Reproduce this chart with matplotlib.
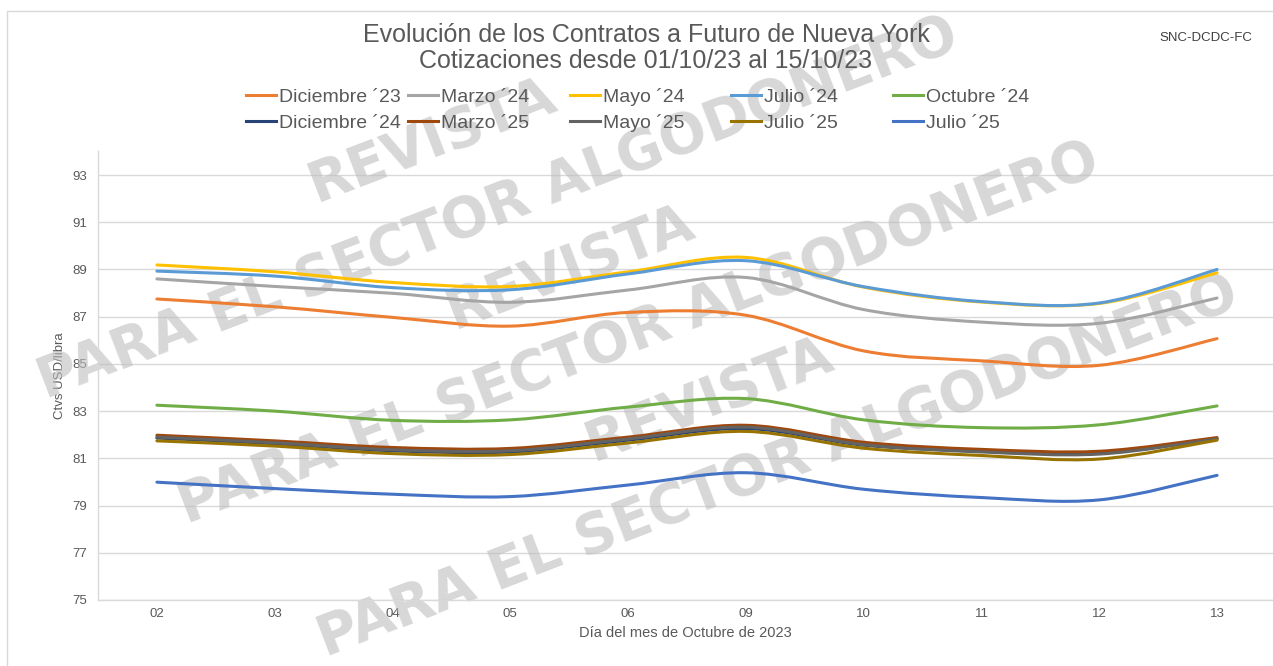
import numpy as np
import matplotlib
matplotlib.use('Agg')
import matplotlib.pyplot as plt
from matplotlib.path import Path
from matplotlib.patches import PathPatch, Rectangle
from matplotlib.lines import Line2D

# ---------------- data ----------------
days = ['02', '03', '04', '05', '06', '09', '10', '11', '12', '13']

dic23 = [87.75, 87.42, 86.97, 86.60, 87.18, 87.06, 85.55, 85.13, 84.94, 86.07]
mar24 = [88.60, 88.28, 87.99, 87.61, 88.13, 88.66, 87.30, 86.77, 86.72, 87.79]
may24 = [89.19, 88.90, 88.45, 88.28, 88.90, 89.51, 88.25, 87.62, 87.56, 88.86]
jul24 = [88.93, 88.72, 88.23, 88.14, 88.81, 89.37, 88.27, 87.64, 87.58, 89.00]
oct24 = [83.25, 83.00, 82.61, 82.63, 83.17, 83.53, 82.63, 82.30, 82.42, 83.22]
dic24 = [81.86, 81.62, 81.32, 81.27, 81.77, 82.26, 81.56, 81.30, 81.22, 81.83]
mar25 = [81.98, 81.74, 81.46, 81.42, 81.90, 82.40, 81.68, 81.38, 81.30, 81.88]
may25 = [81.90, 81.66, 81.36, 81.32, 81.82, 82.32, 81.58, 81.27, 81.18, 81.82]
jul25a = [81.74, 81.52, 81.20, 81.16, 81.65, 82.14, 81.43, 81.12, 80.97, 81.77]
jul25b = [79.99, 79.72, 79.48, 79.38, 79.87, 80.39, 79.69, 79.34, 79.24, 80.28]

series_names = ['Diciembre ´23', 'Marzo ´24', 'Mayo ´24', 'Julio ´24', 'Octubre ´24',
                'Diciembre ´24', 'Marzo ´25', 'Mayo ´25', 'Julio ´25', 'Julio ´25']
series_values = [dic23, mar24, may24, jul24, oct24, dic24, mar25, may25, jul25a, jul25b]
colors = ['#ED7D31', '#A5A5A5', '#FFC000', '#5B9BD5', '#70AD47',
          '#264478', '#9E480E', '#636363', '#997300', '#4472C4']

y_ticks = [75, 77, 79, 81, 83, 85, 87, 89, 91, 93]

title_l1 = 'Evolución de los Contratos a Futuro de Nueva York'
title_l2 = 'Cotizaciones desde 01/10/23 al 15/10/23'
x_label = 'Día del mes de Octubre de 2023'
y_label = 'Ctvs USD/libra'
source = 'SNC-DCDC-FC'
wm_line = 'PARA EL SECTOR ALGODONERO'
wm_word = 'REVISTA'

# ---------------- figure ----------------
plt.rcParams['font.family'] = ['Liberation Sans', 'DejaVu Sans']
W, H = 1273, 666
fig = plt.figure(figsize=(W / 100, H / 100), dpi=100)
fig.patch.set_facecolor('white')

def fx(px):
    return px / W

def fy(py):
    return 1 - py / H

ax_left, ax_right, ax_top, ax_bottom = 98, 1273, 151.4, 600
ax = fig.add_axes([fx(ax_left), fy(ax_bottom), (ax_right - ax_left) / W, (ax_bottom - ax_top) / H])
ax.set_facecolor('none')

# chart-area border (only left/top visible in the reference)
fig.patches.append(Rectangle((fx(7), -0.05), 1.1, fy(11) + 0.05, transform=fig.transFigure,
                             fill=False, edgecolor='#d9d9d9', lw=1.0, zorder=0))

x = np.arange(len(days))


def smooth_path(xs, ys):
    pts = np.column_stack([xs, ys]).astype(float)
    n = len(pts)
    verts = [pts[0]]
    codes = [Path.MOVETO]
    for i in range(n - 1):
        p_prev = pts[i - 1] if i > 0 else pts[i]
        p_next2 = pts[i + 2] if i + 2 < n else pts[i + 1]
        c1 = pts[i] + (pts[i + 1] - p_prev) / 6.0
        c2 = pts[i + 1] - (p_next2 - pts[i]) / 6.0
        verts += [c1, c2, pts[i + 1]]
        codes += [Path.CURVE4] * 3
    return Path(verts, codes)


handles = []
for k, (name, vals, c) in enumerate(zip(series_names, series_values, colors)):
    patch = PathPatch(smooth_path(x, vals), facecolor='none', edgecolor=c, lw=2.2,
                      capstyle='round', joinstyle='round', zorder=3 + k * 0.1)
    ax.add_patch(patch)
    handles.append(Line2D([], [], color=c, lw=2.2, label=name))

ax.set_xlim(-0.5, 9.475)
ax.set_ylim(75, 94)
ax.set_xticks(x)
ax.set_xticklabels(days)
ax.set_yticks(y_ticks)
ax.tick_params(axis='both', length=0, labelsize=9.5, colors='#595959')
ax.tick_params(axis='y', pad=8)
ax.tick_params(axis='x', pad=6)
ax.grid(axis='y', color='#d9d9d9', lw=1.0)
ax.set_axisbelow(True)
for s in ['top', 'right']:
    ax.spines[s].set_visible(False)
for s in ['left', 'bottom']:
    ax.spines[s].set_color('#d9d9d9')
    ax.spines[s].set_linewidth(1.0)

ax.set_xlabel(x_label, fontsize=10.5, color='#595959')
ax.xaxis.set_label_coords(0.5, (ax_bottom - 626) / (ax_bottom - ax_top))
ax.set_ylabel(y_label, fontsize=9.5, color='#595959')
ax.yaxis.set_label_coords((66 - ax_left) / (ax_right - ax_left), 0.5)

# watermark
wm_items = [(wm_word, 433, 140), (wm_line, 498, 208), (wm_word, 571, 267),
            (wm_line, 639, 333), (wm_word, 710, 399), (wm_line, 778, 466)]
for txt, px, py in wm_items:
    ax.text(fx(px), fy(py), txt, transform=fig.transFigure, fontsize=40, fontweight='bold',
            family='DejaVu Sans', color='#bdbdbd', alpha=0.6, rotation=21,
            rotation_mode='anchor', ha='center', va='center', zorder=1, clip_on=False)

# titles
fig.text(fx(646), fy(35), title_l1, fontsize=18, color='#595959', ha='center', va='center')
fig.text(fx(646), fy(61), title_l2, fontsize=18, color='#595959', ha='center', va='center')
fig.text(fx(1206), fy(38), source, fontsize=9.5, color='#404040', ha='center', va='center')

# legend: 5 columns x 2 rows
col_x = [246, 408, 570, 731, 893]
fs_leg = 14
px_per_em = fs_leg / 72 * 100
for j, cx in enumerate(col_x):
    leg = fig.legend(handles=[handles[j], handles[j + 5]], loc='center left',
                     bbox_to_anchor=(fx(cx), fy(110)), frameon=False, fontsize=fs_leg,
                     handlelength=30 / px_per_em, handletextpad=3 / px_per_em,
                     labelspacing=0.44, borderpad=0, borderaxespad=0)
    for t in leg.get_texts():
        t.set_color('#595959')

fig.savefig('out.png', dpi=100, facecolor='white')
